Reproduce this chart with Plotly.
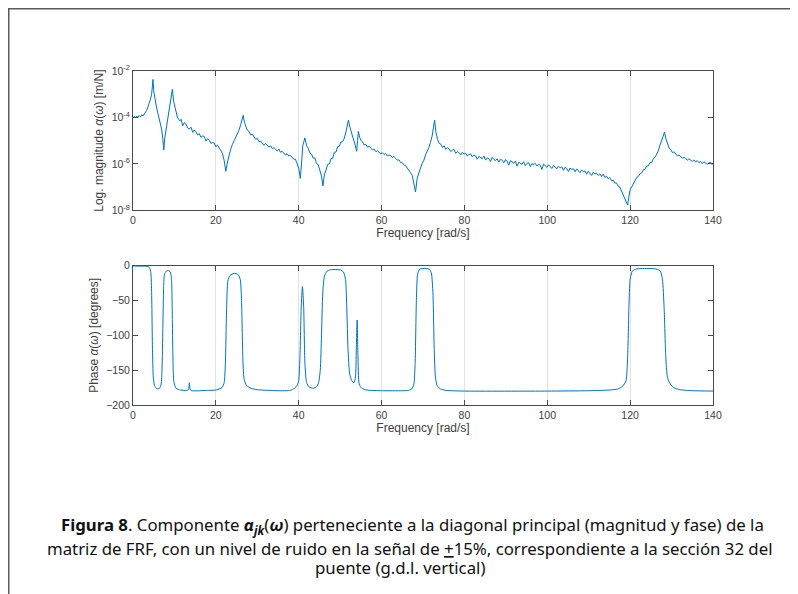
import plotly.graph_objects as go

# ---- Magnitude data (frequency in rad/s, log10 of |alpha| in m/N) ----
mag_freq = [
    0.0, 0.3, 0.6, 0.9, 1.2, 1.5, 1.8, 2.1, 2.4, 2.7, 3.0, 3.3, 3.6, 3.9, 4.2, 4.5, 4.7, 4.83, 5.0, 5.3,
    5.65, 6.0, 6.3, 6.6, 6.9, 7.2, 7.42, 7.7, 8.0, 8.3, 8.6, 8.9, 9.2, 9.5, 9.8, 10.1, 10.4, 10.7, 11.0, 11.3,
    11.6, 12.0, 12.4, 12.8, 13.2, 13.6, 14.0, 14.4, 14.8, 15.2, 15.6, 16.0, 16.4, 16.8, 17.2, 17.6, 18.0, 18.4, 18.8, 19.2,
    19.6, 20.0, 20.4, 20.8, 21.2, 21.6, 22.0, 22.4, 22.8, 23.2, 23.6, 24.0, 24.4, 24.8, 25.2, 25.6, 26.0, 26.3, 26.6, 26.9,
    27.2, 27.6, 28.0, 28.4, 28.8, 29.2, 29.6, 30.0, 30.4, 30.8, 31.2, 31.6, 32.0, 32.4, 32.8, 33.2, 33.6, 34.0, 34.4, 34.8,
    35.2, 35.6, 36.0, 36.4, 36.8, 37.2, 37.6, 38.0, 38.4, 38.8, 39.2, 39.6, 40.0, 40.4, 40.7, 41.0, 41.5, 41.9, 42.3, 42.7,
    43.1, 43.5, 43.9, 44.3, 44.7, 45.1, 45.5, 45.85, 46.2, 46.6, 47.0, 47.4, 47.8, 48.2, 48.6, 49.0, 49.4, 49.8, 50.2, 50.6,
    51.0, 51.4, 51.7, 52.0, 52.3, 52.7, 53.1, 53.5, 53.8, 54.0, 54.2, 54.4, 54.7, 55.0, 55.4, 55.8, 56.2, 56.6, 57.0, 57.4,
    57.8, 58.2, 58.6, 59.0, 59.4, 59.8, 60.2, 60.6, 61.0, 61.4, 61.8, 62.2, 62.6, 63.0, 63.4, 63.8, 64.2, 64.6, 65.0, 65.4,
    65.8, 66.2, 66.6, 67.0, 67.4, 67.8, 68.2, 68.6, 69.0, 69.4, 69.8, 70.2, 70.6, 71.0, 71.4, 71.8, 72.2, 72.5, 72.8, 73.1,
    73.5, 73.9, 74.3, 74.7, 75.1, 75.5, 75.9, 76.3, 76.7, 77.1, 77.5, 77.9, 78.3, 78.7, 79.1, 79.5, 79.9, 80.3, 80.7, 81.1,
    81.5, 81.9, 82.3, 82.7, 83.1, 83.5, 83.9, 84.3, 84.7, 85.1, 85.5, 85.9, 86.3, 86.7, 87.1, 87.5, 87.9, 88.3, 88.7, 89.1,
    89.5, 89.9, 90.3, 90.7, 91.1, 91.5, 91.9, 92.3, 92.7, 93.1, 93.5, 93.9, 94.3, 94.7, 95.1, 95.5, 95.9, 96.3, 96.7, 97.1,
    97.5, 97.9, 98.3, 98.7, 99.1, 99.5, 99.9, 100.3, 100.7, 101.1, 101.5, 101.9, 102.3, 102.7, 103.1, 103.5, 103.9, 104.3, 104.7, 105.1,
    105.5, 105.9, 106.3, 106.7, 107.1, 107.5, 107.9, 108.3, 108.7, 109.1, 109.5, 109.9, 110.3, 110.7, 111.1, 111.5, 111.9, 112.3, 112.7, 113.1,
    113.5, 113.9, 114.3, 114.7, 115.1, 115.5, 115.9, 116.3, 116.7, 117.1, 117.5, 117.9, 118.3, 118.7, 119.1, 119.4, 119.7, 120.0, 120.4, 120.8,
    121.2, 121.6, 122.0, 122.4, 122.8, 123.2, 123.6, 124.0, 124.4, 124.8, 125.2, 125.6, 126.0, 126.4, 126.8, 127.2, 127.6, 128.0, 128.3, 128.6,
    129.0, 129.4, 129.8, 130.2, 130.6, 131.0, 131.4, 131.8, 132.2, 132.6, 133.0, 133.4, 133.8, 134.2, 134.6, 135.0, 135.4, 135.8, 136.2, 136.6,
    137.0, 137.4, 137.8, 138.2, 138.6, 139.0, 139.4, 139.8, 140.0,
]
mag_log10 = [
    -4.02, -3.95, -4.01, -3.94, -4.00, -3.92, -3.98, -3.89, -3.94, -3.85, -3.80, -3.70, -3.55, -3.40, -3.22, -3.00, -2.75, -2.36, -2.85, -3.25,
    -3.55, -3.82, -4.02, -4.25, -4.50, -4.92, -5.41, -4.85, -4.50, -4.22, -3.92, -3.55, -3.25, -2.79, -3.30, -3.58, -3.78, -3.98, -4.08, -4.15,
    -4.08, -4.36, -4.22, -4.30, -4.45, -4.50, -4.42, -4.64, -4.54, -4.62, -4.75, -4.70, -4.86, -4.80, -4.82, -5.02, -4.92, -4.98, -5.12, -5.08,
    -5.10, -5.26, -5.19, -5.30, -5.40, -5.55, -5.85, -6.32, -5.92, -5.58, -5.36, -5.16, -5.02, -4.88, -4.75, -4.55, -4.30, -4.10, -3.91, -4.22,
    -4.36, -4.55, -4.60, -4.76, -4.72, -4.86, -4.94, -4.90, -5.04, -5.02, -5.10, -5.20, -5.12, -5.18, -5.28, -5.22, -5.34, -5.30, -5.38, -5.44,
    -5.36, -5.50, -5.46, -5.54, -5.62, -5.56, -5.66, -5.64, -5.70, -5.80, -5.80, -6.00, -6.18, -6.63, -5.75, -5.20, -4.88, -5.22, -5.33, -5.53,
    -5.58, -5.76, -5.74, -5.99, -6.03, -6.27, -6.53, -6.95, -6.45, -6.27, -6.02, -6.00, -5.77, -5.76, -5.50, -5.49, -5.26, -5.24, -5.06, -5.04,
    -4.90, -4.62, -4.40, -4.12, -4.38, -4.68, -4.88, -5.10, -5.30, -5.46, -5.00, -4.60, -4.85, -4.98, -5.06, -5.19, -5.16, -5.28, -5.24, -5.34,
    -5.40, -5.36, -5.47, -5.44, -5.50, -5.57, -5.52, -5.60, -5.56, -5.66, -5.62, -5.65, -5.72, -5.68, -5.76, -5.84, -5.83, -5.94, -5.95, -6.05,
    -6.08, -6.18, -6.24, -6.38, -6.50, -6.80, -7.21, -6.62, -6.35, -6.18, -5.98, -5.85, -5.62, -5.48, -5.30, -5.08, -4.80, -4.45, -4.12, -4.62,
    -4.95, -5.12, -5.15, -5.30, -5.22, -5.38, -5.30, -5.36, -5.47, -5.41, -5.38, -5.55, -5.47, -5.52, -5.62, -5.50, -5.58, -5.54, -5.66, -5.60,
    -5.57, -5.70, -5.62, -5.66, -5.80, -5.68, -5.72, -5.78, -5.66, -5.84, -5.74, -5.77, -5.90, -5.72, -5.81, -5.86, -5.78, -5.92, -5.80, -5.84,
    -5.95, -5.82, -5.88, -6.06, -5.86, -5.92, -5.97, -5.88, -6.10, -5.93, -5.96, -6.02, -5.91, -6.08, -5.98, -5.95, -6.12, -5.99, -6.03, -5.98,
    -6.09, -6.02, -6.06, -6.24, -6.01, -6.10, -6.15, -6.04, -6.12, -6.20, -6.07, -6.14, -6.22, -6.10, -6.17, -6.13, -6.28, -6.15, -6.20, -6.33,
    -6.18, -6.24, -6.21, -6.34, -6.22, -6.30, -6.38, -6.26, -6.34, -6.31, -6.45, -6.32, -6.40, -6.50, -6.36, -6.44, -6.40, -6.50, -6.43, -6.55,
    -6.44, -6.59, -6.53, -6.65, -6.59, -6.73, -6.70, -6.83, -6.82, -6.96, -7.00, -7.18, -7.30, -7.52, -7.64, -7.78, -7.40, -7.12, -6.98, -6.82,
    -6.73, -6.58, -6.54, -6.42, -6.39, -6.25, -6.23, -6.09, -6.09, -5.94, -5.95, -5.78, -5.72, -5.56, -5.44, -5.20, -5.02, -4.80, -4.63, -4.90,
    -5.15, -5.32, -5.38, -5.52, -5.48, -5.60, -5.66, -5.62, -5.70, -5.76, -5.72, -5.80, -5.84, -5.78, -5.86, -5.90, -5.83, -5.92, -5.86, -5.94,
    -5.90, -5.99, -5.91, -5.95, -6.02, -5.96, -5.93, -6.03, -5.99,
]

# ---- Phase data (degrees) ----
phase_freq = [
    0.0, 1.0, 2.0, 3.0, 3.6, 4.0, 4.3, 4.5, 4.7, 4.9, 5.2, 5.8, 6.4, 6.8, 7.0, 7.2, 7.4, 7.6, 8.0, 8.5,
    9.0, 9.3, 9.5, 9.7, 9.9, 10.4, 11.5, 13.0, 13.4, 13.6, 13.8, 14.2, 18.0, 20.0, 21.5, 22.0, 22.3, 22.6, 22.9, 23.4,
    24.4, 25.4, 25.9, 26.2, 26.5, 26.8, 27.4, 28.5, 30.0, 35.0, 38.0, 39.0, 39.6, 40.0, 40.3, 40.6, 40.9, 41.2, 41.5, 41.9,
    42.5, 43.5, 44.3, 44.8, 45.2, 45.5, 45.8, 46.2, 46.8, 47.5, 48.5, 50.0, 50.8, 51.3, 51.6, 51.9, 52.3, 52.8, 53.3, 53.7,
    53.9, 54.1, 54.3, 54.6, 55.2, 56.5, 60.0, 65.0, 66.5, 67.3, 67.8, 68.1, 68.4, 68.7, 69.2, 70.0, 71.5, 72.0, 72.4, 72.7,
    73.0, 73.4, 74.2, 75.5, 80.0, 100.0, 110.0, 115.0, 117.0, 118.2, 119.0, 119.4, 119.7, 120.0, 120.5, 121.3, 123.0, 125.0, 126.5, 127.3,
    127.8, 128.2, 128.6, 129.0, 129.7, 130.5, 132.0, 135.0, 140.0,
]
phase_deg = [
    -0.5, -0.5, -0.6, -0.8, -1.2, -3, -10, -40, -120, -160, -172, -177, -176, -170, -150, -90, -30, -12, -8, -7,
    -9, -20, -80, -150, -168, -176, -178.5, -179, -178, -168, -178, -179.5, -179, -178.5, -175, -168, -140, -60, -22, -14,
    -11, -13, -20, -50, -130, -162, -172, -176, -178, -179.5, -179, -176, -172, -165, -130, -60, -30, -60, -140, -168,
    -174, -176, -174, -168, -150, -100, -40, -15, -8, -6, -5.5, -6, -9, -20, -60, -120, -155, -165, -168, -160,
    -120, -78, -130, -170, -176, -178.5, -179.5, -179.5, -179, -177, -170, -140, -50, -12, -5, -4, -5, -10, -40, -120,
    -160, -172, -177, -179, -180, -180, -179.5, -178.5, -177, -173, -165, -130, -60, -20, -8, -5, -4, -4, -5, -8,
    -20, -60, -130, -160, -170, -175, -178, -179.5, -180,
]

x_ticks = [0, 20, 40, 60, 80, 100, 120, 140]
mag_tickvals = [1e-8, 1e-6, 1e-4, 1e-2]
mag_ticktext = ["10<sup>-8</sup>", "10<sup>-6</sup>", "10<sup>-4</sup>", "10<sup>-2</sup>"]
phase_ticks = [-200, -150, -100, -50, 0]

LINE = "#0072BD"
AX = "#4a4a4a"
GRID = "#e3e3e3"
FAM = "Liberation Sans, Arial, sans-serif"
AXFONT = dict(family=FAM, size=10.5, color="#404040")
TFONT = dict(family=FAM, size=12, color="#404040")

W, H = 790, 586          # page body has an 8px margin
L, R, T, B = 125, 85, 63, 189
PW, PH = W - L - R, H - T - B

fig = go.Figure()
fig.add_trace(go.Scatter(x=mag_freq, y=[10 ** v for v in mag_log10], mode="lines",
                         line=dict(color=LINE, width=1), xaxis="x", yaxis="y", showlegend=False))
fig.add_trace(go.Scatter(x=phase_freq, y=phase_deg, mode="lines", line_shape="spline",
                         line=dict(color=LINE, width=1, smoothing=0.6), xaxis="x2", yaxis="y2", showlegend=False))

common_x = dict(range=[0, 140], tickvals=x_ticks, showline=True, linecolor=AX, linewidth=1,
                mirror="allticks", ticks="inside", ticklen=5, tickcolor=AX, showgrid=True,
                gridcolor=GRID, gridwidth=1, zeroline=False, tickfont=AXFONT,
                title=dict(text="Frequency [rad/s]", font=TFONT, standoff=3))
common_y = dict(showline=True, linecolor=AX, linewidth=1, mirror="allticks", ticks="inside",
                ticklen=5, tickcolor=AX, showgrid=False, zeroline=False, tickfont=AXFONT)

fig.update_layout(
    width=W, height=H,
    margin=dict(l=L, r=R, t=T, b=B, autoexpand=False),
    paper_bgcolor="white", plot_bgcolor="white",
    xaxis=dict(domain=[0, 1], anchor="y", **common_x),
    yaxis=dict(domain=[0.583, 1], anchor="x", type="log", range=[-8, -2], tickvals=mag_tickvals,
               ticktext=mag_ticktext,
               title=dict(text="Log. magnitude <i>α</i>(<i>ω</i>) [m/N]", font=TFONT, standoff=5),
               **common_y),
    xaxis2=dict(domain=[0, 1], anchor="y2", **common_x),
    yaxis2=dict(domain=[0, 0.417], anchor="x2", range=[-200, 0], tickvals=phase_ticks,
                title=dict(text="Phase <i>α</i>(<i>ω</i>) [degrees]", font=TFONT, standoff=5),
                **common_y),
    showlegend=False,
)

# outer frame (only top and left edges visible in the window)
fig.add_shape(type="rect", xref="paper", yref="paper",
              x0=(0.75 - L) / PW, x1=(W + 20 - L) / PW,
              y0=(T + PH - (H + 20)) / PH, y1=(T + PH - 0.75) / PH,
              line=dict(color="#5a5a5a", width=1.5), fillcolor="rgba(0,0,0,0)", layer="below")

CAP = dict(family="Noto Sans, Open Sans, sans-serif", size=16.8, color="#111111")
caption_lines = [
    "<b>Figura 8</b>. Componente <b><i>α</i></b><sub><b><i>jk</i></b></sub>(<b><i>ω</i></b>) perteneciente a la diagonal principal (magnitud y fase) de la",
    "matriz de FRF, con un nivel de ruido en la señal de <u>+</u>15%, correspondiente a la sección 32 del",
    "puente (g.d.l. vertical)",
]
cap_cx = [404, 401, 392]   # page-body coordinates
cap_cy = [517, 540, 559]
for txt, cx, cy in zip(caption_lines, cap_cx, cap_cy):
    fig.add_annotation(text=txt, xref="paper", yref="paper", x=(cx - L) / PW, y=(T + PH - cy) / PH,
                       xanchor="center", yanchor="middle", showarrow=False, font=CAP)

fig.write_html("out.html")
